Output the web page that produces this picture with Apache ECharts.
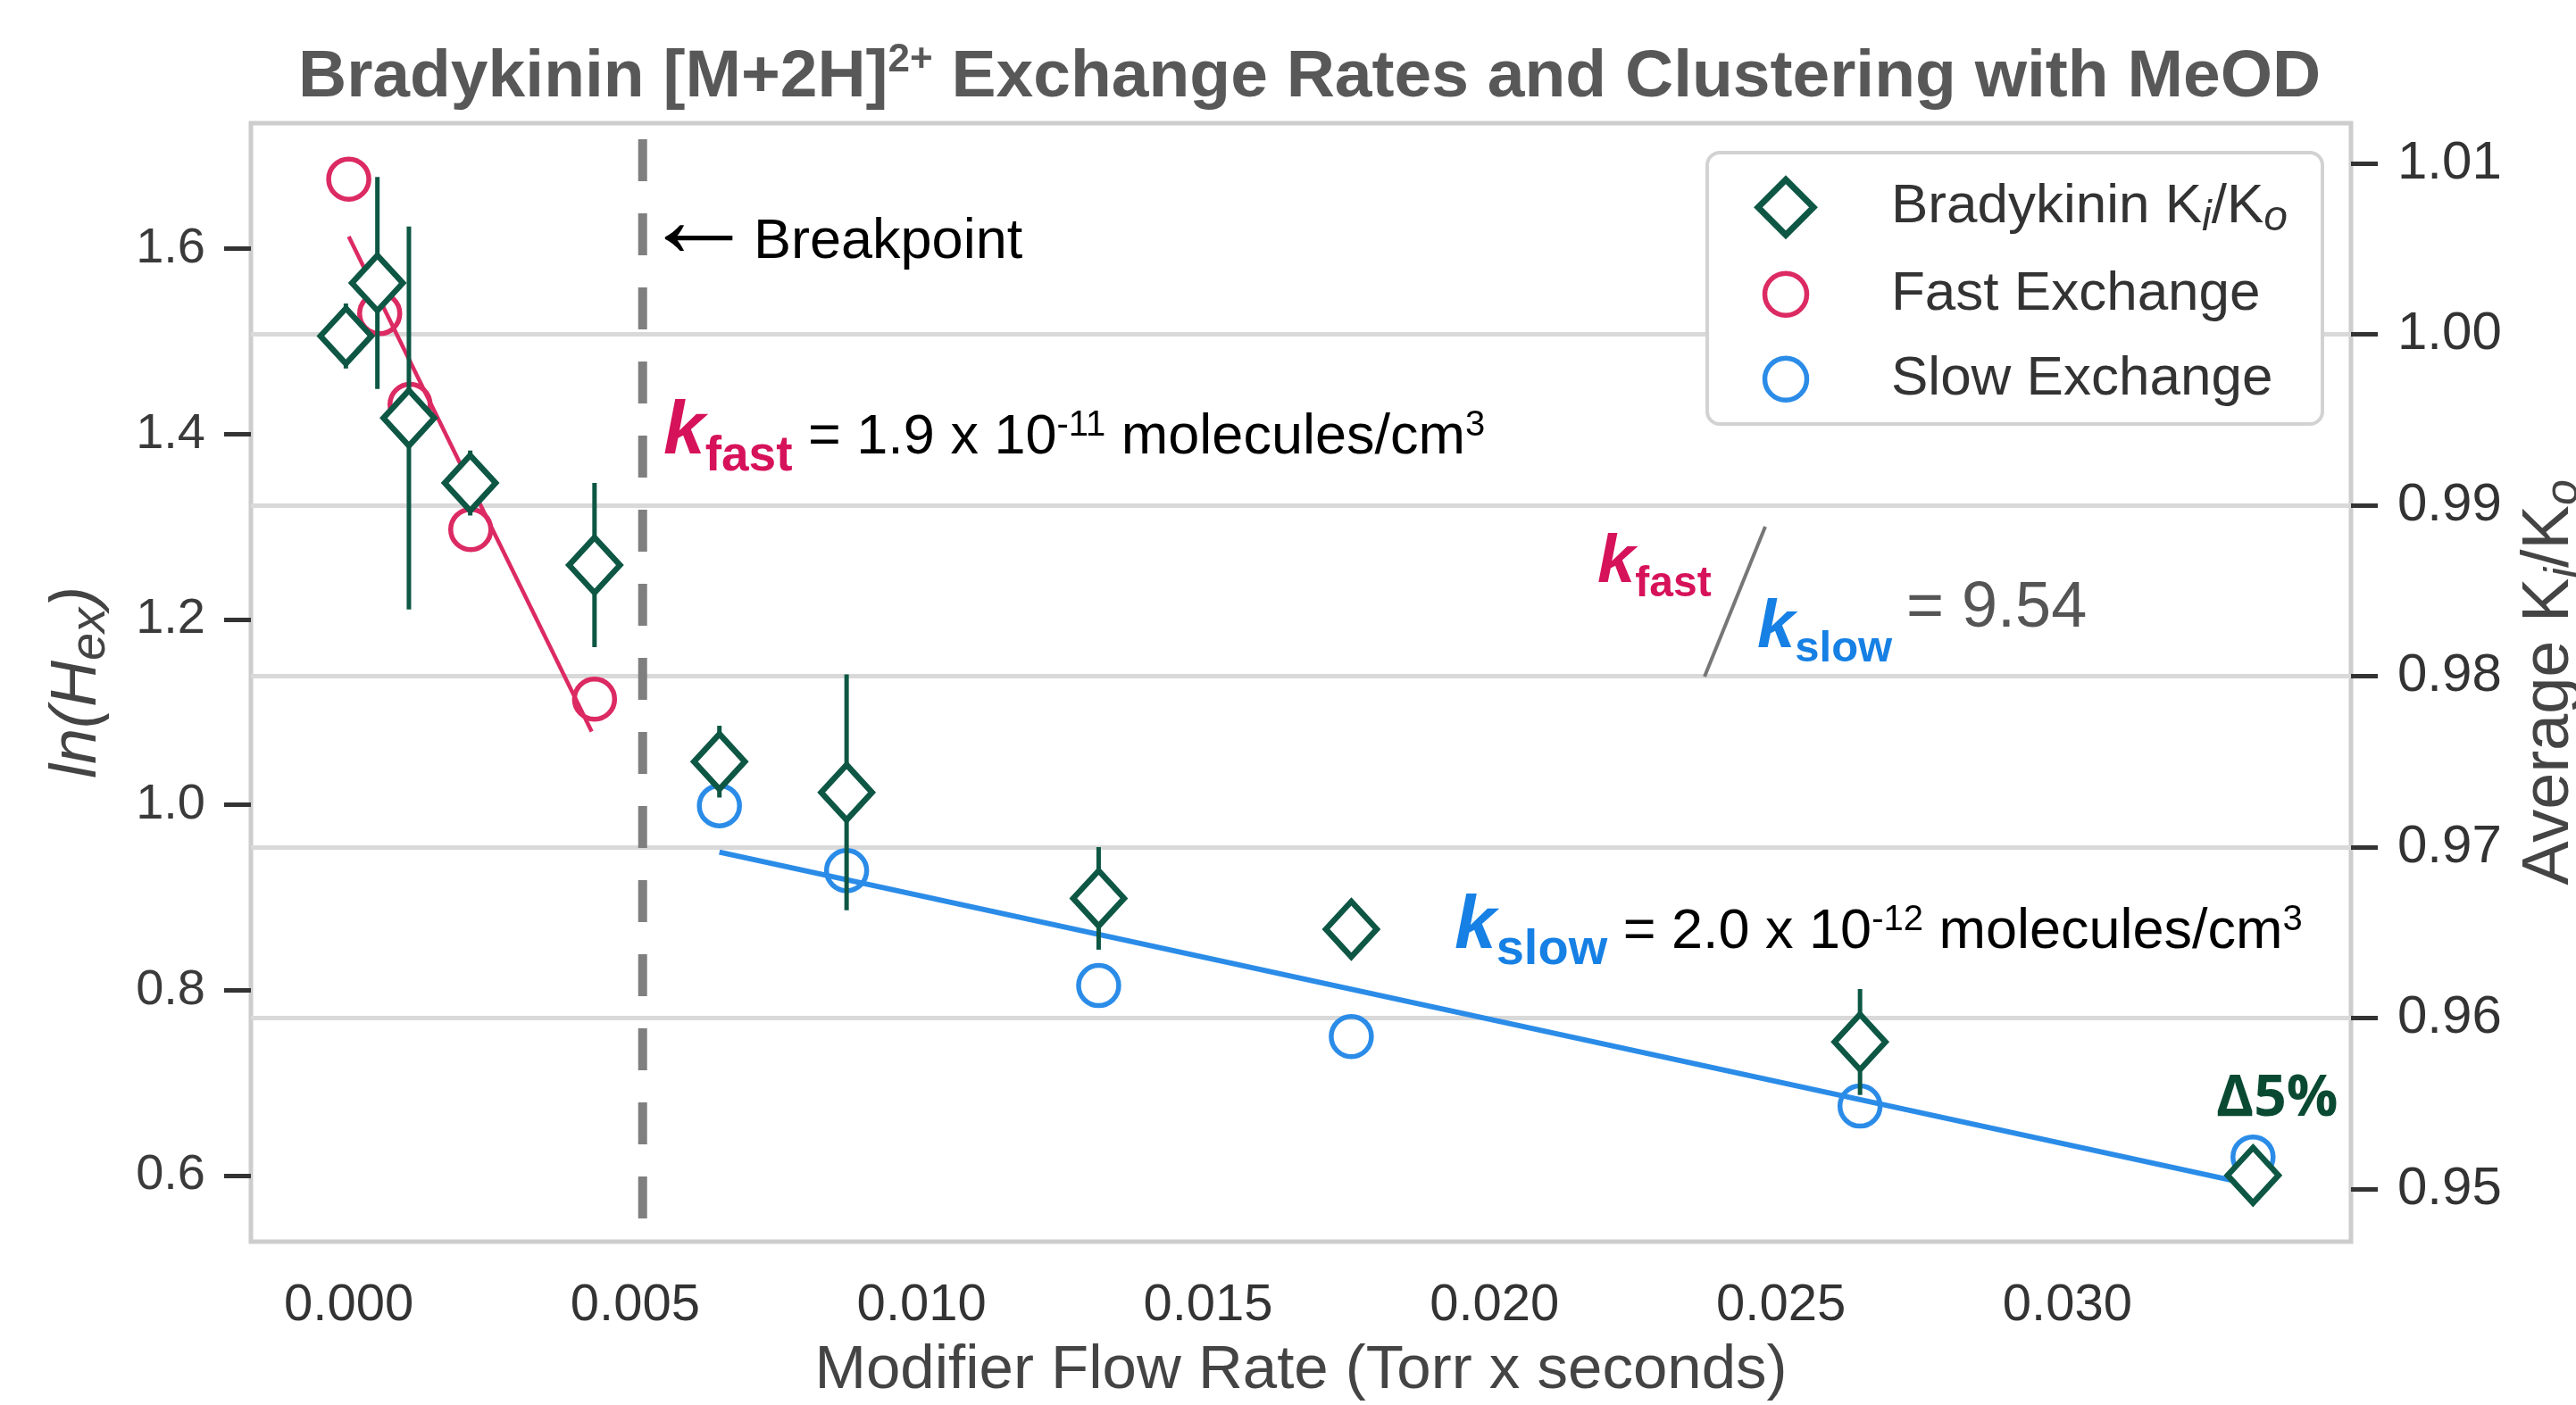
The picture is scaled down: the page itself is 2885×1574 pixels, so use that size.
<!DOCTYPE html>
<html><head><meta charset="utf-8">
<script src="https://cdn.jsdelivr.net/npm/echarts@6/dist/echarts.min.js"></script>
<style>html,body{margin:0;padding:0;background:#fff}#c{width:2885px;height:1574px}</style>
</head><body><div id="c"></div>
<script>
// ---------- data ----------
const xTicks = [0, 0.005, 0.010, 0.015, 0.020, 0.025, 0.030];
const leftTicks = [0.6, 0.8, 1.0, 1.2, 1.4, 1.6];
const rightTicks = [0.95, 0.96, 0.97, 0.98, 0.99, 1.00, 1.01];

const fastX = [0, 0.00054, 0.00107, 0.00213, 0.00429];
const fastY = [1.675, 1.530, 1.432, 1.297, 1.114];
const fastFitX = [0, 0.00424];
const fastFitY = [1.613, 1.079];

const slowX = [0.00647, 0.00869, 0.01309, 0.0175, 0.02638, 0.03324];
const slowY = [0.999, 0.929, 0.805, 0.750, 0.675, 0.620];
const slowFitX = [0.00647, 0.03324];
const slowFitY = [0.949, 0.590];

const kiX = [-0.00005, 0.00050, 0.00105, 0.00212, 0.00429, 0.00647, 0.00869, 0.01309, 0.0175, 0.02638, 0.03324];
const kiY = [0.9999, 1.0030, 0.9951, 0.9913, 0.9865, 0.9750, 0.9732, 0.9670, 0.9652, 0.9586, 0.9508];
const kiErr = [0.0019, 0.0062, 0.0112, 0.0019, 0.0048, 0.0021, 0.0069, 0.0030, 0.0008, 0.0031, 0.0008];

const breakX = [0.00513, 0.00513];
const breakY = [1.718, 0.542];

// ---------- style ----------
const FONT = 'Liberation Sans';
const GREEN = '#0d5744';
const RED = '#dc2a63';
const BLUE = '#2b8ce8';
const KRED = '#d6125a';
const KBLUE = '#1680e4';

const cv = document.createElement('canvas').getContext('2d');
function fontStr(o){ return (o.style||'normal')+' '+(o.weight||'normal')+' '+o.size+'px "'+(o.family||FONT)+'"'; }
function baseOff(o){ cv.font = fontStr(o); cv.textBaseline = 'middle'; return cv.measureText('H').actualBoundingBoxDescent; }
function adv(o, t){ cv.font = fontStr(o); cv.textBaseline = 'alphabetic'; return cv.measureText(t).width; }
function tokenLine(x0, tokens){
  const els = []; let x = x0;
  tokens.forEach(tk => {
    if (tk.x != null) x = tk.x;
    els.push({type:'text', z:20, x:x, y: tk.base - baseOff(tk), silent:true,
      style:{text:tk.t, fontSize:tk.size, fontWeight:tk.weight||'normal', fontStyle:tk.style||'normal',
        fontFamily:tk.family||FONT, fill:tk.color, align:'left', verticalAlign:'middle'}});
    x += adv(tk, tk.t);
  });
  return els;
}
// a glyph stretched so that its ink fills a given box
function inkGlyph(t, o, inkLeft, inkCenterY, inkW, inkH, color){
  cv.font = fontStr(o); cv.textBaseline = 'middle'; cv.textAlign = 'left';
  const m = cv.measureText(t);
  const w = m.actualBoundingBoxLeft + m.actualBoundingBoxRight;
  const h = m.actualBoundingBoxAscent + m.actualBoundingBoxDescent;
  const sx = inkW / w, sy = inkH / h;
  const lx = -m.actualBoundingBoxLeft, cy = (m.actualBoundingBoxDescent - m.actualBoundingBoxAscent) / 2;
  cv.textAlign = 'start';
  return {type:'text', z:20, silent:true, x: inkLeft - sx*lx, y: inkCenterY - sy*cy, scaleX: sx, scaleY: sy,
    style:{text:t, fontSize:o.size, fontFamily:o.family||FONT, fill:color, align:'left', verticalAlign:'middle'}};
}
function supPad(main, sup, up){ return Math.max(0, 2*(up - baseOff(main) + baseOff(sup))); }
function subPad(main, sub, down){ return Math.max(0, 2*(down + baseOff(main) - baseOff(sub))); }

const pairs = (xs, ys) => xs.map((x,i)=>[x, ys[i]]);

// title
const tMain = {size:75, weight:'bold'}, tSup = {size:44, weight:'bold'};
const titleTop = 108 - 40 - baseOff(tMain);
// left axis name
const lnMain = {size:72, style:'italic'}, lnSub = {size:56, style:'italic'};
const nameGapL = 281 - (107 - baseOff(lnMain) + 38);
// right axis name
const rMain = {size:74}, rSub = {size:52, style:'italic'};
const nameGapR = (2823 + 0.716*74 - baseOff(rMain) - 39) - 2633;
// legend
const lgMain = {size:62}, lgSub = {size:48, style:'italic'};

const legendRich = {
  a:{fontSize:62, color:'#333', lineHeight:44, fontFamily:FONT},
  s:{fontSize:48, fontStyle:'italic', color:'#333', lineHeight:44, fontFamily:FONT, padding:[subPad(lgMain, lgSub, 9),0,0,0]}
};
function lgFormat(name){ return name === 'Bradykinin Ki/Ko' ? '{a|Bradykinin K}{s|i}{a|/K}{s|o}' : '{a|'+name+'}'; }
function mkLegend(left, top, w, h, padL, name, icon, itemStyle){
  return {orient:'vertical', left:left, top:top, padding:0, itemWidth:w, itemHeight:h, itemGap:0,
    selectedMode:false, z:20, data:[{name:name, icon:icon, itemStyle:itemStyle}],
    formatter: lgFormat, textStyle:{fontSize:62, color:'#333', fontFamily:FONT, lineHeight:44, padding:[0,0,0,padL], rich:legendRich}};
}

// annotations
const black = '#000';
const annot = [].concat(
  tokenLine(1789, [
    {t:'k', size:76, weight:'bold', style:'italic', color:KRED, base:652},
    {t:'fast', size:48, weight:'bold', color:KRED, base:668}
  ]),
  tokenLine(1968, [
    {t:'k', size:76, weight:'bold', style:'italic', color:KBLUE, base:725},
    {t:'slow', size:49, weight:'bold', color:KBLUE, base:741}
  ]),
  tokenLine(2135, [{t:'= 9.54', size:72, color:'#555', base:702}]),
  tokenLine(743, [
    {t:'k', size:84, weight:'bold', style:'italic', color:KRED, base:508},
    {t:'fast', size:55, weight:'bold', color:KRED, base:527},
    {t:' = 1.9 x 10', size:63, color:black, base:508},
    {t:'-11', size:40, color:black, base:488},
    {t:' molecules/cm', size:63, color:black, base:508},
    {t:'3', size:40, color:black, base:488}
  ]),
  tokenLine(1629, [
    {t:'k', size:84, weight:'bold', style:'italic', color:KBLUE, base:1062},
    {t:'slow', size:56, weight:'bold', color:KBLUE, base:1080},
    {t:' = 2.0 x 10', size:63, color:black, base:1062},
    {t:'-12', size:40, color:black, base:1042},
    {t:' molecules/cm', size:63, color:black, base:1062},
    {t:'3', size:40, color:black, base:1042}
  ]),
  [inkGlyph('\u2190', {size:63}, 743, 268, 79, 31, black)],
  tokenLine(844, [{t:'Breakpoint', size:63, color:black, base:289}]),
  tokenLine(2482, [{t:'\u03945%', size:64, weight:'bold', family:'Open Sans', color:'#0a4a33', base:1250}])
);

const option = {
  animation:false,
  backgroundColor:'#fff',
  textStyle:{fontFamily:FONT},
  title:{
    text:'{b|Bradykinin [M+2H]}{s|2+}{b| Exchange Rates and Clustering with MeOD}',
    left:334, top:titleTop, padding:0,
    textStyle:{fontSize:75, fontWeight:'bold', color:'#585858', fontFamily:FONT, lineHeight:80,
      rich:{
        b:{fontSize:75, fontWeight:'bold', color:'#585858', fontFamily:FONT, lineHeight:80},
        s:{fontSize:44, fontWeight:'bold', color:'#585858', fontFamily:FONT, lineHeight:80, padding:[0,0,supPad(tMain,tSup,28),0]}
      }}
  },
  grid:{left:281, right:252, top:138, bottom:183, show:true, borderColor:'#cdcdcd', borderWidth:5,
        backgroundColor:'rgba(0,0,0,0)', outerBoundsMode:'none', containLabel:false},
  xAxis:{
    type:'value', min:-0.001708, max:0.03495,
    name:'Modifier Flow Rate (Torr x seconds)', nameLocation:'middle', nameGap:110,
    nameTextStyle:{fontSize:69, color:'#444', fontFamily:FONT},
    axisLine:{show:false, onZero:false}, axisTick:{show:false}, splitLine:{show:false},
    axisLabel:{customValues:xTicks, formatter:v=>v.toFixed(3), fontSize:58, color:'#333', margin:43, fontFamily:FONT}
  },
  yAxis:[
    {type:'value', position:'left', min:0.5287, max:1.7354,
     name:'{a|ln(H}{s|ex}{a|)}', nameLocation:'middle', nameGap:nameGapL,
     nameTextStyle:{fontSize:72, fontStyle:'italic', color:'#444', fontFamily:FONT, lineHeight:76,
       rich:{a:{fontSize:72, fontStyle:'italic', color:'#444', fontFamily:FONT, lineHeight:76},
             s:{fontSize:56, fontStyle:'italic', color:'#444', fontFamily:FONT, lineHeight:76, padding:[subPad(lnMain,lnSub,10),0,0,0]}}},
     axisLine:{show:false, onZero:false}, splitLine:{show:false},
     axisTick:{show:true, customValues:leftTicks, length:30, lineStyle:{color:'#333', width:5}},
     axisLabel:{customValues:leftTicks, formatter:v=>v.toFixed(1), fontSize:56, color:'#3a3a3a', margin:51, fontFamily:FONT}},
    {type:'value', position:'right', min:0.94692, max:1.01235,
     name:'{a|Average K}{s|i}{a|/K}{s|o}', nameLocation:'middle', nameGap:nameGapR,
     nameTextStyle:{fontSize:74, color:'#444', fontFamily:FONT, lineHeight:78,
       rich:{a:{fontSize:74, color:'#444', fontFamily:FONT, lineHeight:78},
             s:{fontSize:52, fontStyle:'italic', color:'#444', fontFamily:FONT, lineHeight:78, padding:[subPad(rMain,rSub,10),0,0,0]}}},
     axisLine:{show:false, onZero:false},
     splitLine:{show:true, showMinLine:false, showMaxLine:false, lineStyle:{color:'#d9d9d9', width:5}},
     axisTick:{show:true, customValues:rightTicks, length:30, lineStyle:{color:'#333', width:5}},
     axisLabel:{customValues:rightTicks, formatter:v=>v.toFixed(2), fontSize:60, color:'#333', margin:52, fontFamily:FONT}}
  ],
  legend:[
    mkLegend(1965.5, 195.5, 62, 62, 82, 'Bradykinin Ki/Ko', 'diamond', {color:'#fff', borderColor:GREEN, borderWidth:7, opacity:1}),
    mkLegend(1973.75, 298.75, 47, 47, 89.5, 'Fast Exchange', 'circle', {color:'rgba(0,0,0,0)', borderColor:RED, borderWidth:5.5, opacity:1}),
    mkLegend(1973.75, 393.75, 47, 47, 89.5, 'Slow Exchange', 'circle', {color:'rgba(0,0,0,0)', borderColor:BLUE, borderWidth:5.5, opacity:1})
  ],
  graphic:{elements:[
    {type:'rect', z:10, silent:true, shape:{x:1912, y:171, width:689, height:304, r:14}, style:{fill:'#fff', stroke:'#d2d2d2', lineWidth:4}},
    {type:'line', z:20, silent:true, shape:{x1:1977, y1:590, x2:1909, y2:758}, style:{stroke:'#777', lineWidth:4}}
  ].concat(annot)},
  series:[
    {type:'line', name:'Breakpoint', data:pairs(breakX, breakY), xAxisIndex:0, yAxisIndex:0, z:1, silent:true,
     showSymbol:false, symbol:'none', lineStyle:{color:'#7f7f7f', width:10, type:[47,36], cap:'butt'}},
    {type:'line', name:'Fast fit', data:pairs(fastFitX, fastFitY), yAxisIndex:0, z:2, silent:true,
     symbol:'none', lineStyle:{color:RED, width:4.5}},
    {type:'line', name:'Slow fit', data:pairs(slowFitX, slowFitY), yAxisIndex:0, z:2, silent:true,
     symbol:'none', lineStyle:{color:BLUE, width:6}},
    {type:'scatter', name:'Fast Exchange', data:pairs(fastX, fastY), yAxisIndex:0, z:2,
     symbol:'circle', symbolSize:45, itemStyle:{color:'rgba(0,0,0,0)', borderColor:RED, borderWidth:5.5, opacity:1}},
    {type:'scatter', name:'Slow Exchange', data:pairs(slowX, slowY), yAxisIndex:0, z:2,
     symbol:'circle', symbolSize:45, itemStyle:{color:'rgba(0,0,0,0)', borderColor:BLUE, borderWidth:5.5, opacity:1}},
    {type:'custom', name:'Ki error', yAxisIndex:1, z:3, silent:true,
     data: kiX.map((x,i)=>[x, kiY[i], kiErr[i]]),
     encode:{x:0, y:1},
     renderItem:(params, api)=>{
       const x = api.value(0), y = api.value(1), e = api.value(2);
       const a = api.coord([x, y+e]), b = api.coord([x, y-e]);
       return {type:'line', shape:{x1:a[0], y1:a[1], x2:b[0], y2:b[1]}, style:{stroke:GREEN, lineWidth:5}};
     }},
    {type:'scatter', name:'Bradykinin Ki/Ko', data:pairs(kiX, kiY), yAxisIndex:1, z:4,
     symbol:'diamond', symbolSize:[57,62], itemStyle:{color:'#fff', borderColor:GREEN, borderWidth:6.5, opacity:1}}
  ]
};
const chart = echarts.init(document.getElementById('c'), null, {renderer:'canvas'});
chart.setOption(option);
</script>
</body></html>
